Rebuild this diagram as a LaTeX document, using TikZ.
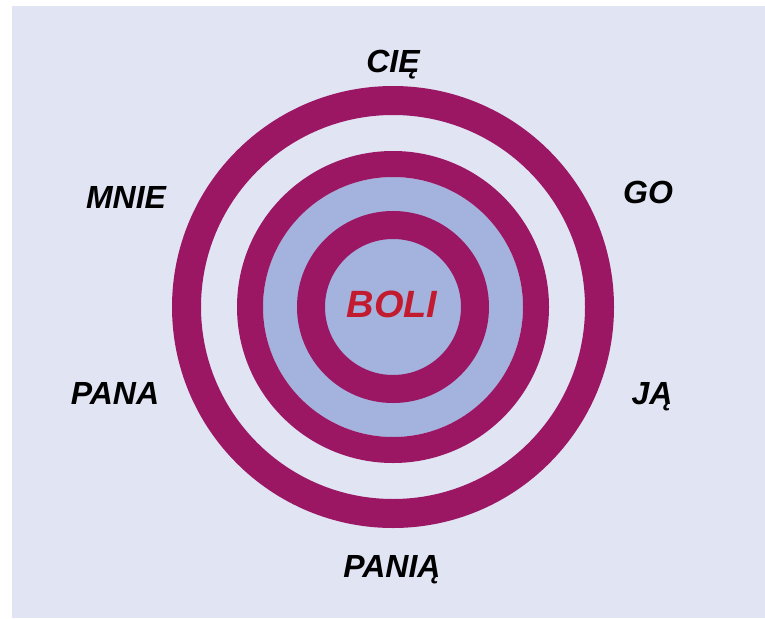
\documentclass[tikz,border=0pt]{standalone}
\usepackage{fontspec}
\setmainfont{Liberation Sans}
\definecolor{ringc}{HTML}{9B1763}
\definecolor{fillc}{HTML}{A3B3DD}
\definecolor{bgc}{HTML}{E0E4F3}
\definecolor{redc}{HTML}{C21A2F}
\tikzset{
  lbl/.style={anchor=base, inner sep=0pt, font=\fontsize{32}{32}\selectfont\bfseries\itshape, text=black},
  ringline/.style={draw=ringc}
}
\begin{document}
\begin{tikzpicture}[x=1pt,y=-1pt]
\useasboundingbox (0,0) rectangle (765,618);
\fill[white] (0,0) rectangle (765,618);
\fill[bgc] (12,6) rectangle (765,618);
\coordinate (c) at (393,307);
\fill[fillc] (c) circle[radius=130];
\draw[ringline, line width=29] (c) circle[radius=206.5];
\draw[ringline, line width=26] (c) circle[radius=143];
\draw[ringline, line width=28] (c) circle[radius=82];
\node[lbl] (cie) at (393,72) {CIĘ};
\node[lbl] (mnie) at (126,208) {MNIE};
\node[lbl] (go) at (648,203) {GO};
\node[lbl] (pana) at (115,404) {PANA};
\node[lbl] (ja) at (652,404) {JĄ};
\node[lbl] (pania) at (392,577) {PANIĄ};
\node[lbl, text=redc, font=\fontsize{38}{38}\selectfont\bfseries\itshape] (boli) at (392,317) {BOLI};
\end{tikzpicture}
\end{document}
